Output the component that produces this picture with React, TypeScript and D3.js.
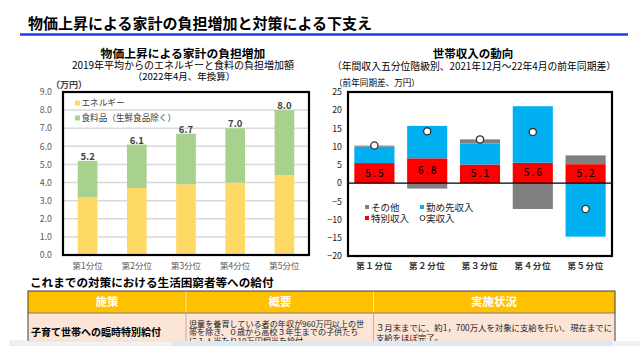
import React from "react";
import * as d3 from "d3";

// ---- Left chart data ----
const catsL = ["第1分位", "第2分位", "第3分位", "第4分位", "第5分位"];
const energy = [3.2, 3.7, 3.9, 4.0, 4.4];
const food = [2.0, 2.4, 2.8, 3.0, 3.6];
const ticksL = [0, 1, 2, 3, 4, 5, 6, 7, 8, 9];

// ---- Right chart data ----
const catsR = ["第１分位", "第２分位", "第３分位", "第４分位", "第５分位"];
const special = [5.5, 6.8, 5.1, 5.6, 5.2];
const wage = [4.5, 8.9, 5.8, 15.5, -14.7];
const other = [0.3, -1.5, 1.1, -7.1, 2.4];
const actual = [10.3, 14.2, 12.0, 14.0, -7.1];
const ticksR = [-20, -15, -10, -5, 0, 5, 10, 15, 20, 25];

// ---- Table text ----
const tableHeaders = ["施策", "概要", "実施状況"];
const row1 = "子育て世帯への臨時特別給付";
const row1Summary = [
  "児童を養育している者の年収が960万円以上の世",
  "帯を除き、０歳から高校３年生までの子供たち",
  "に１人当たり10万円相当を給付",
];
const row1Status = [
  "３月末までに、約1，700万人を対象に支給を行い、現在までに",
  "支給をほぼ完了。",
];

const JP = "'Noto Sans CJK JP', 'Noto Sans', sans-serif";

export default function App() {
  // Left scales
  const xL = d3.scaleBand<string>().domain(catsL).range([63, 309]).paddingInner(0.6).paddingOuter(0.3);
  const yL = d3.scaleLinear().domain([0, 9]).range([255, 92]);
  const tableL = catsL.map((c, i) => ({ cat: c, energy: energy[i], food: food[i] }));
  const stackL = d3.stack<any>().keys(["energy", "food"])(tableL);
  const colorsL: Record<string, string> = { energy: "#FFD966", food: "#A9D18E" };

  // Right scales
  const xR = d3.scaleBand<string>().domain(catsR).range([348, 612]).paddingInner(0.24).paddingOuter(0.12);
  const yR = d3.scaleLinear().domain([-20, 25]).range([256, 92]);
  const tableR = catsR.map((c, i) => ({ cat: c, special: special[i], wage: wage[i], other: other[i] }));
  const stackR = d3.stack<any>().keys(["special", "wage", "other"]).offset(d3.stackOffsetDiverging)(tableR);
  const colorsR: Record<string, string> = { special: "#FF0000", wage: "#00B0F0", other: "#808080" };

  const fmt = d3.format(".1f");

  return (
    <div style={{ position: "absolute", left: 0, top: 0 }}>
      <svg width={640} height={346} style={{ display: "block", background: "#fff" }} fontFamily={JP}>
        <defs>
          <clipPath id="tblclip">
            <rect x={28} y={291} width={587} height={50} />
          </clipPath>
        </defs>
        {/* Main title */}
        <text x={28} y={29} fontSize={15} fontWeight={700} fill="#000">
          物価上昇による家計の負担増加と対策による下支え
        </text>
        <line x1={20} x2={628} y1={34.5} y2={34.5} stroke="#1a3cf0" strokeWidth={2.5} />

        {/* ---------- Left chart ---------- */}
        <text x={183} y={57.5} textAnchor="middle" fontSize={11.8} fontWeight={700} fill="#000">
          物価上昇による家計の負担増加
        </text>
        <text x={183} y={68.8} textAnchor="middle" fontSize={10} fill="#000">
          2019年平均からのエネルギーと食料の負担増加額
        </text>
        <text x={184} y={79.8} textAnchor="middle" fontSize={9.5} fill="#000">
          （2022年4月、年換算）
        </text>
        <text x={51} y={87.5} fontSize={9} fontWeight={700} fill="#404040">
          （万円）
        </text>
        {ticksL.map((t) => (
          <g key={"gl" + t}>
            {t > 0 && t < 9 && (
              <line x1={63} x2={309} y1={yL(t)} y2={yL(t)} stroke="#D9D9D9" strokeWidth={1.5} />
            )}
            <text x={52} y={yL(t) + 3.2} textAnchor="end" fontSize={8.8} fill="#595959">
              {fmt(t)}
            </text>
          </g>
        ))}
        {stackL.map((s) => (
          <g key={s.key} fill={colorsL[s.key]}>
            {s.map((d: any) => (
              <rect
                key={d.data.cat}
                x={xL(d.data.cat)}
                width={xL.bandwidth()}
                y={yL(d[1])}
                height={yL(d[0]) - yL(d[1])}
              />
            ))}
          </g>
        ))}
        {tableL.map((d) => (
          <text
            key={"lbl" + d.cat}
            x={(xL(d.cat) as number) + xL.bandwidth() / 2}
            y={yL(d.energy + d.food) - 1}
            textAnchor="middle"
            fontSize={9.5}
            fontWeight={700}
            fill="#404040"
          >
            {fmt(d.energy + d.food)}
          </text>
        ))}
        <rect x={63} y={92} width={246} height={163} fill="none" stroke="#000" strokeWidth={2.2} />
        {catsL.map((c) => (
          <text
            key={"xl" + c}
            x={(xL(c) as number) + xL.bandwidth() / 2}
            y={268.5}
            textAnchor="middle"
            fontSize={8.5}
            fill="#595959"
          >
            {c}
          </text>
        ))}
        {/* left legend */}
        <rect x={75} y={100.5} width={5} height={5} fill={colorsL.energy} />
        <text x={81.5} y={106.3} fontSize={8.6} fill="#404040">エネルギー</text>
        <rect x={75} y={115.5} width={5} height={5} fill={colorsL.food} />
        <text x={81.5} y={121.3} fontSize={8.6} fill="#404040">食料品（生鮮食品除く）</text>

        {/* ---------- Right chart ---------- */}
        <text x={473} y={58} textAnchor="middle" fontSize={11.5} fontWeight={700} fill="#000">
          世帯収入の動向
        </text>
        <text x={474} y={69.5} textAnchor="middle" fontSize={9.8} fill="#000">
          （年間収入五分位階級別、2021年12月～22年4月の前年同期差）
        </text>
        <text x={334} y={85.5} fontSize={8.6} fill="#000">
          （前年同期差、万円）
        </text>
        {ticksR.map((t) => (
          <text key={"yr" + t} x={342} y={yR(t) + 3.2} textAnchor="end" fontSize={8.8} fill="#222">
            {t < 0 ? "−" + Math.abs(t) : t}
          </text>
        ))}
        {stackR.map((s) => (
          <g key={s.key} fill={colorsR[s.key]}>
            {s.map((d: any) => (
              <rect
                key={d.data.cat}
                x={xR(d.data.cat)}
                width={xR.bandwidth()}
                y={yR(Math.max(d[0], d[1]))}
                height={Math.abs(yR(d[0]) - yR(d[1]))}
              />
            ))}
          </g>
        ))}
        <line x1={348} x2={612} y1={yR(0)} y2={yR(0)} stroke="#000" strokeWidth={1.3} />
        {tableR.map((d) => (
          <text
            key={"sp" + d.cat}
            x={(xR(d.cat) as number) + xR.bandwidth() / 2 + 1}
            y={yR(d.special / 2) + 3.5}
            textAnchor="middle"
            fontSize={10}
            fontWeight={500}
            letterSpacing={2}
            fill="#000"
          >
            {fmt(d.special)}
          </text>
        ))}
        {catsR.map((c, i) => (
          <circle
            key={"ac" + c}
            cx={(xR(c) as number) + xR.bandwidth() / 2}
            cy={yR(actual[i])}
            r={3.6}
            fill="#fff"
            stroke="#333"
            strokeWidth={1.3}
          />
        ))}
        <rect x={348} y={92} width={264} height={164} fill="none" stroke="#000" strokeWidth={2.2} />
        {catsR.map((c) => (
          <text
            key={"xr" + c}
            x={(xR(c) as number) + xR.bandwidth() / 2}
            y={269}
            textAnchor="middle"
            fontSize={8.5}
            fontWeight={700}
            letterSpacing={0.6}
            fill="#333"
          >
            {c}
          </text>
        ))}
        {/* right legend */}
        <rect x={365} y={205} width={4} height={4} fill={colorsR.other} />
        <text x={371} y={211} fontSize={9.5} fill="#222">その他</text>
        <rect x={420} y={205} width={4} height={4} fill={colorsR.wage} />
        <text x={426} y={211} fontSize={9.5} fill="#222">勤め先収入</text>
        <rect x={365} y={216} width={4} height={4} fill={colorsR.special} />
        <text x={371} y={222} fontSize={9.5} fill="#222">特別収入</text>
        <circle cx={422.5} cy={218} r={2.5} fill="#fff" stroke="#333" strokeWidth={1} />
        <text x={426} y={222} fontSize={9.5} fill="#222">実収入</text>

        {/* ---------- Bottom table ---------- */}
        <text x={30} y={287} fontSize={11.6} fontWeight={700} fill="#000">
          これまでの対策における生活困窮者等への給付
        </text>
        <rect x={28} y={291} width={587} height={22} fill="#FFC000" />
        <rect x={28} y={313} width={587} height={40} fill="#FCE4D6" />
        <line x1={186} x2={186} y1={291} y2={313} stroke="#FFE699" strokeWidth={1} />
        <line x1={373.5} x2={373.5} y1={291} y2={313} stroke="#FFE699" strokeWidth={1} />
        <line x1={186} x2={186} y1={313} y2={346} stroke="#A6A6A6" strokeWidth={0.8} />
        <line x1={373.5} x2={373.5} y1={313} y2={346} stroke="#A6A6A6" strokeWidth={0.8} />
        <line x1={28} x2={615} y1={313} y2={313} stroke="#7F7F7F" strokeWidth={1} />
        <rect x={28} y={291} width={587} height={60} fill="none" stroke="#404040" strokeWidth={1} />
        {tableHeaders.map((h, i) => (
          <text
            key={h}
            x={[107, 280, 494][i]}
            y={306}
            textAnchor="middle"
            fontSize={11.5}
            fontWeight={700}
            fill="#fff"
          >
            {h}
          </text>
        ))}
        <text x={31} y={336} fontSize={10} fontWeight={700} fill="#000">
          {row1}
        </text>
        <g clipPath="url(#tblclip)">
          {row1Summary.map((s, i) => (
            <text key={"s" + i} x={189} y={327 + i * 8.3} fontSize={8.1} fill="#222">
              {s}
            </text>
          ))}
        </g>
        {row1Status.map((s, i) => (
          <text key={"st" + i} x={376} y={331 + i * 9.5} fontSize={8.4} fill="#222">
            {s}
          </text>
        ))}
        {/* bottom strip artefact */}
        <rect x={0} y={341} width={640} height={5} fill="#fff" />
        <rect x={10} y={341} width={163} height={5} fill="#F2F2F2" stroke="#D9D9D9" strokeWidth={0.6} />
        <rect x={173} y={341} width={440} height={5} fill="#DCEAF6" />
        <rect x={613} y={341} width={27} height={5} fill="#F2F2F2" />
      </svg>
    </div>
  );
}
